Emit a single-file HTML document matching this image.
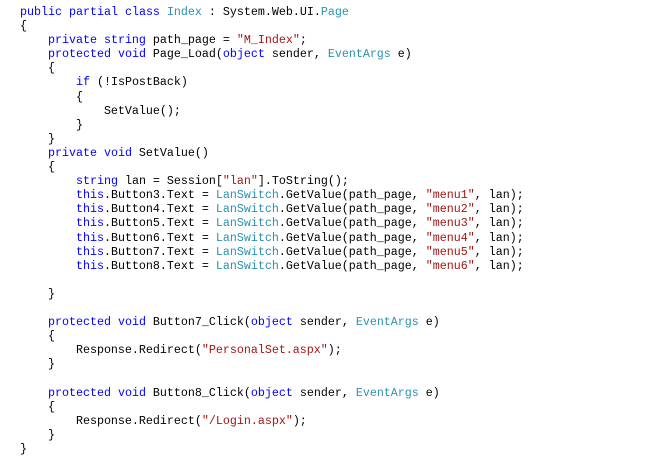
<!DOCTYPE html>
<html><head><meta charset="utf-8"><style>
html,body{margin:0;padding:0;background:#fff;width:662px;height:456px;overflow:hidden}
pre{position:absolute;left:20px;top:5px;margin:0;font-family:"Liberation Mono","Noto Sans CJK SC",monospace;font-size:11.67px;line-height:14.1px;color:#000}
.k{color:#0000ff}.t{color:#2b91af}.s{color:#a31515}
</style></head><body>
<pre><span class="k">public</span> <span class="k">partial</span> <span class="k">class</span> <span class="t">Index</span> : System.Web.UI.<span class="t">Page</span>
{
    <span class="k">private</span> <span class="k">string</span> path_page = <span class="s">"M_Index"</span>;
    <span class="k">protected</span> <span class="k">void</span> Page_Load(<span class="k">object</span> sender, <span class="t">EventArgs</span> e)
    {
        <span class="k">if</span> (!IsPostBack)
        {
            SetValue();
        }
    }
    <span class="k">private</span> <span class="k">void</span> SetValue()
    {
        <span class="k">string</span> lan = Session[<span class="s">"lan"</span>].ToString();
        <span class="k">this</span>.Button3.Text = <span class="t">LanSwitch</span>.GetValue(path_page, <span class="s">"menu1"</span>, lan);
        <span class="k">this</span>.Button4.Text = <span class="t">LanSwitch</span>.GetValue(path_page, <span class="s">"menu2"</span>, lan);
        <span class="k">this</span>.Button5.Text = <span class="t">LanSwitch</span>.GetValue(path_page, <span class="s">"menu3"</span>, lan);
        <span class="k">this</span>.Button6.Text = <span class="t">LanSwitch</span>.GetValue(path_page, <span class="s">"menu4"</span>, lan);
        <span class="k">this</span>.Button7.Text = <span class="t">LanSwitch</span>.GetValue(path_page, <span class="s">"menu5"</span>, lan);
        <span class="k">this</span>.Button8.Text = <span class="t">LanSwitch</span>.GetValue(path_page, <span class="s">"menu6"</span>, lan);

    }

    <span class="k">protected</span> <span class="k">void</span> Button7_Click(<span class="k">object</span> sender, <span class="t">EventArgs</span> e)
    {
        Response.Redirect(<span class="s">"PersonalSet.aspx"</span>);
    }

    <span class="k">protected</span> <span class="k">void</span> Button8_Click(<span class="k">object</span> sender, <span class="t">EventArgs</span> e)
    {
        Response.Redirect(<span class="s">"/Login.aspx"</span>);
    }
}</pre>
</body></html>
